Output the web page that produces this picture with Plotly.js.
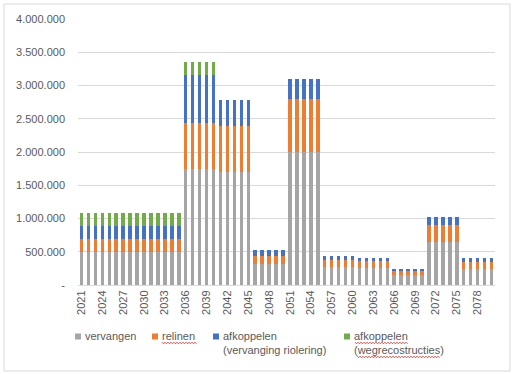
<!DOCTYPE html>
<html><head><meta charset="utf-8">
<script src="https://cdn.plot.ly/plotly-3.0.1.min.js"></script>
<style>html,body{margin:0;padding:0;background:#fff}#chart{width:517px;height:374px}</style>
</head><body><div id="chart"></div>
<script>
const years = ['2021','2022','2023','2024','2025','2026','2027','2028','2029','2030',
  '2031','2032','2033','2034','2035','2036','2037','2038','2039','2040',
  '2041','2042','2043','2044','2045','2046','2047','2048','2049','2050',
  '2051','2052','2053','2054','2055','2056','2057','2058','2059','2060',
  '2061','2062','2063','2064','2065','2066','2067','2068','2069','2070',
  '2071','2072','2073','2074','2075','2076','2077','2078','2079','2080'];

const vervangen = [500000,500000,500000,500000,500000,500000,500000,500000,500000,500000,
  500000,500000,500000,500000,500000,1740000,1740000,1740000,1740000,1740000,
  1706000,1706000,1706000,1706000,1706000,315000,315000,315000,315000,315000,
  2000000,2000000,2000000,2000000,2000000,265000,265000,265000,265000,265000,
  260000,260000,260000,260000,260000,145000,145000,145000,145000,145000,
  640000,640000,640000,640000,640000,240000,240000,240000,240000,240000];

const relinen = [193000,193000,193000,193000,193000,193000,193000,193000,193000,193000,
  193000,193000,193000,193000,193000,695000,695000,695000,695000,695000,
  689000,689000,689000,689000,689000,125000,125000,125000,125000,125000,
  800000,800000,800000,800000,800000,110000,110000,110000,110000,110000,
  105000,105000,105000,105000,105000,70000,70000,70000,70000,70000,
  265000,265000,265000,265000,265000,105000,105000,105000,105000,105000];

const afkoppelenRiolering = [200000,200000,200000,200000,200000,200000,200000,200000,200000,200000,
  200000,200000,200000,200000,200000,728000,728000,728000,728000,728000,
  391000,391000,391000,391000,391000,85000,85000,85000,85000,85000,
  300000,300000,300000,300000,300000,60000,60000,60000,60000,60000,
  40000,40000,40000,40000,40000,30000,30000,30000,30000,30000,
  115000,115000,115000,115000,115000,65000,65000,65000,65000,65000];

const afkoppelenWeg = [195000,195000,195000,195000,195000,195000,195000,195000,195000,195000,
  195000,195000,195000,195000,195000,195000,195000,195000,195000,195000,
  0,0,0,0,0,0,0,0,0,0,
  0,0,0,0,0,0,0,0,0,0,
  0,0,0,0,0,0,0,0,0,0,
  0,0,0,0,0,0,0,0,0,0];

const seriesNames = ['vervangen','relinen','afkoppelen<br>(vervanging riolering)','afkoppelen<br>(wegrecostructies)'];
const seriesColors = ['#A5A5A5','#ED7D31','#4472C4','#70AD47'];
const xTickLabels = ['2021','2024','2027','2030','2033','2036','2039','2042','2045','2048',
  '2051','2054','2057','2060','2063','2066','2069','2072','2075','2078'];
const yTickValues = [0,500000,1000000,1500000,2000000,2500000,3000000,3500000,4000000];
const yTickLabels = ['-','500.000','1.000.000','1.500.000','2.000.000','2.500.000','3.000.000','3.500.000','4.000.000'];

const W = 517, H = 374;
const M = {l:78, r:22, t:19, b:89};
const pw = W - M.l - M.r, ph = H - M.t - M.b;
const px2x = p => (p - M.l) / pw;
const py2y = p => (M.t + ph - p) / ph;
const FONT = 'Liberation Sans';
const TXT = '#595959';

const allValues = [vervangen, relinen, afkoppelenRiolering, afkoppelenWeg];
const legendTextX = [85, 162, 223, 354];
const legendTop = 330;

const traces = allValues.map((vals, i) => ({
  type: 'bar', x: years, y: vals, name: seriesNames[i],
  marker: {color: seriesColors[i]},
  showlegend: false, hoverinfo: 'skip'
}));

const shapes = [{type: 'rect', xref: 'paper', yref: 'paper',
  x0: px2x(4), x1: px2x(510), y0: py2y(371), y1: py2y(4),
  line: {color: '#d9d9d9', width: 1}, layer: 'below'}];
const annotations = [];
seriesNames.forEach((nm, i) => {
  shapes.push({type: 'rect', xref: 'paper', yref: 'paper',
    x0: px2x(legendTextX[i] - 10), x1: px2x(legendTextX[i] - 4),
    y0: py2y(legendTop + 9.5), y1: py2y(legendTop + 3.5),
    line: {width: 0}, fillcolor: seriesColors[i]});
  annotations.push({xref: 'paper', yref: 'paper', x: px2x(legendTextX[i] - 2), y: py2y(legendTop - 2),
    xanchor: 'left', yanchor: 'top', align: 'left', showarrow: false, text: nm,
    font: {family: FONT, size: 11, color: TXT}});
});

// spell-check squiggles seen under some legend words
function squiggle(xa, xb, yc) {
  let d = '', up = true;
  for (let p = xa; p <= xb; p += 1.5) {
    d += (d ? ' L' : 'M') + px2x(p).toFixed(5) + ',' + py2y(yc + (up ? -0.8 : 0.8)).toFixed(5);
    up = !up;
  }
  return {type: 'path', xref: 'paper', yref: 'paper', path: d, line: {color: '#e02020', width: 0.8}};
}
shapes.push(squiggle(162, 197, 343));
shapes.push(squiggle(355, 408, 343));
shapes.push(squiggle(357, 440, 357));

const layout = {
  width: W, height: H, margin: M,
  paper_bgcolor: '#fff', plot_bgcolor: '#fff',
  barmode: 'stack', bargap: 0.5,
  font: {family: FONT, size: 11, color: TXT},
  showlegend: false,
  xaxis: {type: 'category', tickmode: 'array', tickvals: xTickLabels, ticktext: xTickLabels,
    tickangle: -90, tickfont: {family: FONT, size: 11, color: TXT},
    showline: true, linecolor: '#d9d9d9', linewidth: 1, ticks: '', showgrid: false, zeroline: false},
  yaxis: {range: [0, 4000000], autorange: false, tickmode: 'array', tickvals: yTickValues, ticktext: yTickLabels,
    tickfont: {family: FONT, size: 11, color: TXT}, gridcolor: '#d9d9d9', gridwidth: 1,
    zeroline: false, showline: false, ticks: '', ticklabelstandoff: 12},
  shapes: shapes,
  annotations: annotations
};

Plotly.newPlot('chart', traces, layout, {staticPlot: true, displayModeBar: false});
</script></body></html>
